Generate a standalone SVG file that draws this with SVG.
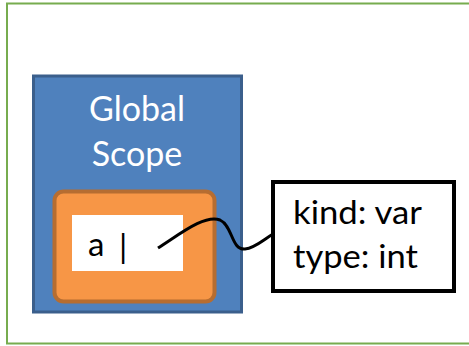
<svg xmlns="http://www.w3.org/2000/svg" width="469" height="346" viewBox="0 0 469 346">
  <style>
    .label { font-family: Lato, "Open Sans", "Liberation Sans", sans-serif; }
    .scope-title { fill: #ffffff; font-size: 34px; text-anchor: middle; }
    .entry { fill: #000000; font-size: 33px; }
    .info { fill: #000000; font-size: 33px; }
  </style>
  <rect x="0" y="0" width="469" height="346" fill="#ffffff"/>
  <!-- frame -->
  <rect x="7" y="3.5" width="480" height="340" fill="none" stroke="#77ac4f" stroke-width="2"/>

  <g id="global-scope">
    <rect x="33.5" y="76" width="208" height="236" fill="#4f81bd" stroke="#3b5f8c" stroke-width="3"/>
    <text class="label scope-title" x="137" y="121">Global</text>
    <text class="label scope-title" x="137" y="166">Scope</text>
  </g>

  <g id="symbol-slot">
    <rect x="54.5" y="191.5" width="160" height="110" rx="9" fill="#f79646" stroke="#b66d31" stroke-width="4"/>
    <rect x="72" y="215" width="111" height="56" fill="#ffffff"/>
    <text class="label entry" x="88" y="256">a</text>
    <text class="label entry" x="119" y="258">|</text>
  </g>

  <g id="symbol-info">
    <rect x="273" y="182" width="181" height="109" fill="#ffffff" stroke="#000000" stroke-width="4"/>
    <text class="label info" x="293" y="224" textLength="129" lengthAdjust="spacingAndGlyphs">kind: var</text>
    <text class="label info" x="293" y="268" textLength="125" lengthAdjust="spacingAndGlyphs">type: int</text>
  </g>

  <g id="connectors">
    <path d="M158,248 C180,234 205,214 220,220 C233,226 231,250 245,249 C255,248 263,240 273,234" fill="none" stroke="#000000" stroke-width="3"/>
  </g>
</svg>
